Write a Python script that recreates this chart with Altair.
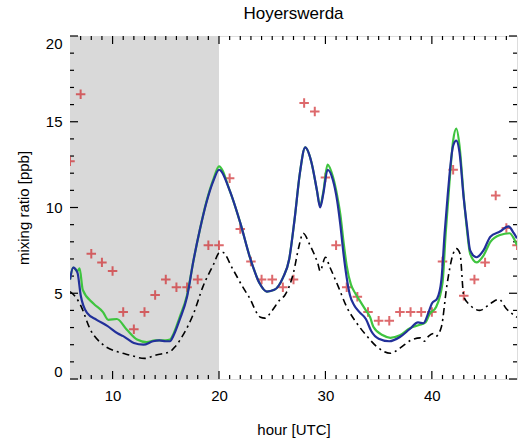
import altair as alt
import pandas as pd

# ---- data ----
obs_hour = list(range(6, 49))
obs_val = [12.7, 16.6, 7.3, 6.8, 6.3, 3.9, 2.9, 3.9, 4.9, 5.8, 5.35, 5.35, 5.8, 7.8, 7.8,
           11.7, 8.75, 6.85, 5.8, 5.8, 5.35, 5.8, 16.1, 15.6, 11.75, 7.8, 5.35, 4.8, 3.9,
           3.4, 3.4, 3.9, 3.9, 3.9, 3.9, 6.85, 12.2, 4.85, 5.8, 6.8, 10.7, 8.8, 7.8]

blue_hour = [6.0, 6.3, 6.7, 7.0, 7.6, 8.5, 9.5, 10.5, 11.0, 12.0, 12.9, 13.8, 14.4, 15.0, 15.4,
             15.7, 16.3, 17.0, 17.6, 18.2, 18.8, 19.5, 20.0, 21.0, 22.0, 22.9, 23.8, 24.5,
             25.2, 26.0, 26.6, 27.1, 27.6, 28.1, 28.7, 29.2, 29.5, 29.8, 30.2, 30.7, 31.1,
             31.4, 31.7, 32.0, 32.3, 32.7, 33.2, 33.8, 34.3, 35.0, 36.0, 37.0, 37.9, 38.7,
             39.2, 39.7, 40.0, 40.5, 40.9, 41.2, 41.5, 42.0, 42.3, 42.6, 43.0, 43.3, 43.6,
             44.2, 44.85, 45.5, 46.4, 47.2, 47.7, 48.0]
blue_val = [5.8, 6.5, 6.2, 4.9, 3.85, 3.45, 3.1, 2.65, 2.5, 2.1, 2.0, 2.2, 2.25, 2.2, 2.2,
            2.5, 3.45, 4.8, 6.9, 8.7, 10.25, 11.6, 12.2, 11.0, 9.1, 7.1, 5.6, 5.1,
            5.2, 5.9, 7.0, 9.3, 12.0, 13.5, 12.6, 11.0, 10.0, 10.8, 12.2, 11.6, 10.4,
            9.0, 7.3, 5.9, 4.9, 4.3, 3.9, 3.5, 2.8, 2.35, 2.2, 2.45, 2.9, 3.3,
            3.25, 3.9, 4.4, 4.7, 5.8, 8.5, 10.8, 13.6, 13.9, 13.2, 10.5, 8.9, 7.5,
            7.1, 7.5, 8.3, 8.6, 8.9, 8.5, 8.2]

green_hour = [6.0, 6.3, 6.7, 6.9, 7.2, 8.2, 9.1, 9.6, 10.4, 11.3, 12.3, 13.2, 14.0, 15.0,
              15.4, 15.7, 16.3, 17.0, 17.6, 18.2, 18.8, 19.5, 20.0, 21.0, 22.0, 22.9, 23.8,
              24.5, 25.2, 26.0, 26.6, 27.1, 27.6, 28.1, 28.7, 29.2, 29.5, 29.8, 30.2, 30.7,
              31.1, 31.4, 31.7, 32.0, 32.4, 32.8, 33.3, 33.8, 34.2, 34.5, 35.4, 36.1, 37.0,
              37.9, 38.8, 39.4, 39.8, 40.4, 41.0, 41.3, 41.6, 42.0, 42.3, 42.6, 43.0, 43.3,
              43.6, 44.2, 44.85, 45.5, 46.4, 47.3, 47.7, 48.0]
green_val = [5.8, 6.5, 6.3, 6.45, 5.2, 4.4, 3.9, 3.45, 3.5, 2.9, 2.3, 2.15, 2.25, 2.25,
             2.3, 2.6, 3.6, 4.9, 6.9, 8.7, 10.3, 11.7, 12.4, 11.0, 9.1, 7.1, 5.6,
             5.1, 5.2, 5.9, 7.0, 9.3, 12.0, 13.5, 12.6, 11.0, 10.1, 10.9, 12.5, 11.8,
             10.7, 9.6, 8.0, 6.6, 5.5, 5.0, 4.5, 4.0, 3.6, 3.05, 2.55, 2.4, 2.55,
             2.95, 3.15, 3.3, 3.8, 4.2, 5.6, 8.5, 11.0, 13.9, 14.6, 13.6, 10.6, 8.7,
             7.3, 6.8, 7.2, 8.0, 8.4, 8.5, 8.2, 7.8]

black_hour = [6.0, 6.5, 7.0, 7.9, 9.1, 10.4, 11.6, 13.0, 14.1, 15.4, 15.9, 16.7, 17.6, 18.5,
              19.5, 20.0, 20.3, 21.3, 22.2, 22.8, 23.9, 24.3, 25.0, 25.7, 26.2, 27.0, 27.5,
              27.9, 28.55, 29.3, 29.5, 30.0, 30.4, 31.2, 32.0, 32.95, 33.9, 34.8, 36.1, 37.0,
              38.0, 38.9, 39.3, 39.7, 40.15, 40.4, 40.9, 41.4, 42.0, 42.3, 42.65, 43.0, 43.6,
              44.5, 45.5, 46.3, 47.0, 48.0]
black_val = [5.1, 4.8, 4.3, 2.9, 2.0, 1.6, 1.4, 1.2, 1.4, 1.6, 1.9, 2.65, 3.8, 5.4,
             6.7, 7.35, 7.4, 6.4, 5.4, 4.8, 3.6, 3.55, 4.0, 4.6, 4.9, 6.2, 7.7,
             8.5, 7.8, 6.7, 6.3, 7.1, 6.55, 5.4, 4.2, 3.25, 2.5, 1.9, 1.5, 1.8,
             2.25, 2.4, 2.2, 2.5, 2.65, 2.5, 3.05, 5.4, 7.3, 7.6, 7.3, 4.8, 4.3,
             4.0, 4.4, 4.65, 4.1, 3.6]

night_start = [6]
night_end = [20]
y_lo = [0]
y_hi = [20]

x_major = [10, 20, 30, 40]
x_minor = [h for h in range(7, 48) if h % 10 != 0]
y_major = [0, 5, 10, 15, 20]
y_minor = [v for v in range(1, 20) if v % 5 != 0]

W, H = 447, 343
XD = [6, 48]
YD = [0, 20]
FONT = "Liberation Sans"
MAJOR_PX, MINOR_PX = 8, 4
PX_X = (XD[1] - XD[0]) / W     # one pixel in hour units
PX_Y = (YD[1] - YD[0]) / H     # one pixel in ppb units

obs = pd.DataFrame({"hour": obs_hour, "val": obs_val})
blue = pd.DataFrame({"hour": blue_hour, "val": blue_val})
green = pd.DataFrame({"hour": green_hour, "val": green_val})
black = pd.DataFrame({"hour": black_hour, "val": black_val})
shade = pd.DataFrame({"s": night_start, "e": night_end, "y0": y_lo, "y1": y_hi})

# inward box ticks on all four sides, built from the tick-value lists
rows = []
for vals, px in ((x_major, MAJOR_PX), (x_minor, MINOR_PX)):
    for v in vals:
        rows.append((v, v, YD[0], YD[0] + px * PX_Y))          # bottom
        rows.append((v, v, YD[1], YD[1] - px * PX_Y))          # top
for vals, px in ((y_major, MAJOR_PX), (y_minor, MINOR_PX)):
    for v in vals:
        rows.append((XD[0], XD[0] + px * PX_X, v, v))          # left
        rows.append((XD[1], XD[1] - px * PX_X, v, v))          # right
ticks = pd.DataFrame(rows, columns=["xa", "xb", "ya", "yb"])

xs = alt.Scale(domain=XD, nice=False, zero=False)
ys = alt.Scale(domain=YD, nice=False, zero=False)

x_axis = alt.Axis(orient="bottom", values=x_major, ticks=False, domain=False,
                  grid=False, labelFontSize=15, labelPadding=9, titleFontSize=15,
                  titlePadding=19, labelFont=FONT, titleFont=FONT,
                  labelColor="black", titleColor="black", titleFontWeight="normal")
y_axis = alt.Axis(orient="left", values=y_major, ticks=False, domain=False,
                  grid=False, labelFontSize=15, labelPadding=8, titleFontSize=15,
                  titlePadding=14, labelFont=FONT, titleFont=FONT, labelFlush=True,
                  labelColor="black", titleColor="black", titleFontWeight="normal")


def X(field):
    return alt.X(field, scale=xs, title="hour [UTC]", axis=x_axis)


def Y(field):
    return alt.Y(field, scale=ys, title="mixing ratio [ppb]", axis=y_axis)


rect = alt.Chart(shade).mark_rect(color="#d9d9d9").encode(
    x=X("s:Q"), x2="e:Q", y=Y("y0:Q"), y2="y1:Q")

tick_rules = alt.Chart(ticks).mark_rule(color="black", strokeWidth=1.2).encode(
    x=X("xa:Q"), x2="xb:Q", y=Y("ya:Q"), y2="yb:Q")

pts = alt.Chart(obs).mark_point(
    shape="M-1,0L1,0M0,-1L0,1", filled=False, size=90, strokeWidth=2, color="#d02a2e",
    clip=True).encode(x=X("hour:Q"), y=Y("val:Q"))


def curve(df, **kw):
    return alt.Chart(df).mark_line(interpolate="monotone", clip=True, **kw).encode(
        x=X("hour:Q"), y=Y("val:Q"))


line_black = curve(black, color="black", strokeWidth=1.6, strokeDash=[7, 4, 2, 4])
line_green = curve(green, color="#3fc43f", strokeWidth=2.2)
line_blue = curve(blue, color="#22309a", strokeWidth=2.2)

chart = alt.layer(
    rect, tick_rules, pts, line_black, line_green, line_blue,
).properties(
    width=W, height=H,
    title=alt.TitleParams("Hoyerswerda", fontSize=17, font=FONT, fontWeight="normal",
                          color="black", anchor="middle", offset=12),
    autosize=alt.AutoSizeParams(type="none"),
    padding={"left": 70, "top": 36, "right": 2, "bottom": 68},
).configure_view(stroke="black", strokeWidth=1.2).configure(background="white")

chart.save("out.html", embed_options={"renderer": "svg", "actions": False})
